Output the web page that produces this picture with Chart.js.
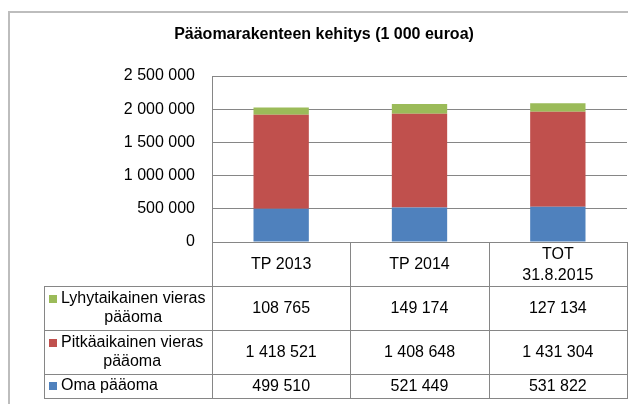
<!DOCTYPE html>
<html><head><meta charset="utf-8">
<script src="https://cdn.jsdelivr.net/npm/chart.js@4/dist/chart.umd.min.js"></script>
<style>html,body{margin:0;padding:0;background:#fff;}canvas{display:block;}</style>
</head><body>
<canvas id="c" width="628" height="404"></canvas>
<script>
// ---- data ----
const chartTitle = 'Pääomarakenteen kehitys (1 000 euroa)';
const categories = ['TP 2013', 'TP 2014', ['TOT', '31.8.2015']];
const seriesNames = ['Oma pääoma', 'Pitkäaikainen vieras pääoma', 'Lyhytaikainen vieras pääoma'];
const omaPaaoma = [499510, 521449, 531822];
const pitkaaikainenVieras = [1418521, 1408648, 1431304];
const lyhytaikainenVieras = [108765, 149174, 127134];
const yTickValues = [0, 500000, 1000000, 1500000, 2000000, 2500000];

// ---- helpers ----
const FONT = '"Liberation Sans", Arial, sans-serif';
const GRID = '#868686';
function fmt(v) { return String(v).replace(/\B(?=(\d{3})+(?!\d))/g, ' '); }

function wrapWords(ctx, text, maxW) {
  const words = text.split(' ');
  const lines = [];
  let cur = '';
  for (const w of words) {
    const t = cur ? cur + ' ' + w : w;
    if (cur && ctx.measureText(t).width > maxW) { lines.push(cur); cur = w; }
    else cur = t;
  }
  if (cur) lines.push(cur);
  return lines;
}

const tablePlugin = {
  id: 'dataTable',
  beforeDraw(chart) {
    const ctx = chart.ctx;
    ctx.save();
    ctx.strokeStyle = '#bdbdbd';
    ctx.lineWidth = 2;
    ctx.beginPath();
    ctx.moveTo(9, 404); ctx.lineTo(9, 12); ctx.lineTo(628, 12);
    ctx.stroke();
    ctx.restore();
  },
  afterDraw(chart) {
    const ctx = chart.ctx;
    const ca = chart.chartArea;
    const x = chart.scales.x;
    const n = categories.length;
    const step = x.getPixelForValue(1) - x.getPixelForValue(0);
    const edges = [];
    for (let i = 0; i <= n; i++) edges.push(Math.round(x.getPixelForValue(i) - step / 2));
    const crisp = v => Math.round(v) + 0.5;
    const tableLeft = 44;
    const top = ca.bottom;
    const headerH = 44;

    ctx.save();
    // title
    ctx.fillStyle = '#000';
    ctx.font = 'bold 16px ' + FONT;
    ctx.textAlign = 'center';
    ctx.textBaseline = 'middle';
    ctx.fillText(chartTitle, 324, 35);

    ctx.strokeStyle = GRID;
    ctx.lineWidth = 1;
    function hline(y, x0, x1) { ctx.beginPath(); ctx.moveTo(x0, crisp(y)); ctx.lineTo(x1, crisp(y)); ctx.stroke(); }
    function vline(xx, y0, y1) { ctx.beginPath(); ctx.moveTo(crisp(xx), y0); ctx.lineTo(crisp(xx), y1); ctx.stroke(); }

    // header
    edges.forEach(e => vline(e, top, top + headerH));
    ctx.font = '16px ' + FONT;
    categories.forEach((c, i) => {
      const lines = Array.isArray(c) ? c : [c];
      const cx = x.getPixelForValue(i);
      const lh = 20.5;
      const cy = top + headerH / 2 + 1;
      lines.forEach((l, k) => ctx.fillText(l, cx, cy + (k - (lines.length - 1) / 2) * lh));
    });

    // rows (top to bottom = reverse of stacking)
    const rows = [
      { name: seriesNames[2], values: lyhytaikainenVieras, color: '#9BBB59' },
      { name: seriesNames[1], values: pitkaaikainenVieras, color: '#C0504D' },
      { name: seriesNames[0], values: omaPaaoma, color: '#4F81BD' }
    ];
    let y = top + headerH;
    hline(y, tableLeft, ca.right + 1);
    const textLeft = 61;
    const lineH = 18.5;
    rows.forEach(r => {
      ctx.font = '16px ' + FONT;
      const lines = wrapWords(ctx, r.name, 150);
      const h = lines.length > 1 ? 44 : 24;
      const cy = y + h / 2;
      // borders
      hline(y + h, tableLeft, ca.right + 1);
      vline(tableLeft, y, y + h);
      edges.forEach(e => vline(e, y, y + h));
      // legend text
      const widths = lines.map(l => ctx.measureText(l).width);
      const blockW = Math.max(...widths);
      ctx.textAlign = 'center';
      ctx.fillStyle = '#000';
      lines.forEach((l, k) => {
        const ly = cy + (k - (lines.length - 1) / 2) * lineH;
        ctx.fillText(l, textLeft + blockW / 2, ly);
      });
      const firstY = cy - (lines.length - 1) / 2 * lineH;
      ctx.fillStyle = r.color;
      ctx.fillRect(49, Math.round(firstY) - 4, 8, 8);
      // values
      ctx.fillStyle = '#000';
      r.values.forEach((v, i) => ctx.fillText(fmt(v), x.getPixelForValue(i), cy + 1));
      y += h;
    });
    ctx.restore();
  }
};

new Chart(document.getElementById('c'), {
  type: 'bar',
  data: {
    labels: categories,
    datasets: [
      { label: seriesNames[0], data: omaPaaoma, backgroundColor: '#4F81BD' },
      { label: seriesNames[1], data: pitkaaikainenVieras, backgroundColor: '#C0504D' },
      { label: seriesNames[2], data: lyhytaikainenVieras, backgroundColor: '#9BBB59' }
    ]
  },
  options: {
    responsive: false,
    devicePixelRatio: 1,
    animation: false,
    layout: { padding: { left: 0, right: 1, top: 76, bottom: 162 } },
    datasets: { bar: { barPercentage: 0.4, categoryPercentage: 1, borderWidth: 0 } },
    plugins: { legend: { display: false }, title: { display: false }, tooltip: { enabled: false } },
    scales: {
      x: { stacked: true, display: false },
      y: {
        stacked: true,
        min: 0,
        max: 2500000,
        afterBuildTicks: s => { s.ticks = yTickValues.map(v => ({ value: v })); },
        afterFit: s => { s.width = 212; },
        grid: { color: GRID, drawTicks: false },
        border: { display: true, color: GRID },
        ticks: {
          padding: 17,
          color: '#000',
          font: { family: FONT, size: 16 },
          callback: v => fmt(v)
        }
      }
    }
  },
  plugins: [tablePlugin]
});
</script>
</body></html>
